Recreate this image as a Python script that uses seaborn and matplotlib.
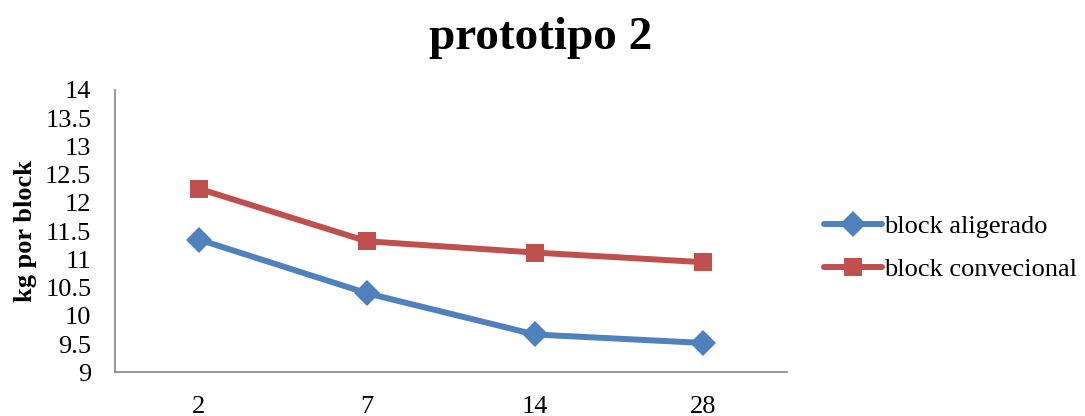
import matplotlib
matplotlib.use("Agg")
import matplotlib.pyplot as plt
import seaborn as sns
import pandas as pd

dias = ["2", "7", "14", "28"]
aligerado = [11.35, 10.40, 9.67, 9.52]
convencional = [12.25, 11.32, 11.12, 10.95]
series_names = ["block aligerado", "block convecional"]
y_ticks = [9, 9.5, 10, 10.5, 11, 11.5, 12, 12.5, 13, 13.5, 14]
y_tick_labels = ["9", "9.5", "10", "10.5", "11", "11.5", "12", "12.5", "13", "13.5", "14"]

sns.set_theme(style="white")
plt.rcParams['font.family'] = ['Liberation Serif', 'DejaVu Serif']
plt.rcParams['text.color'] = 'black'
plt.rcParams['axes.labelcolor'] = 'black'

df = pd.DataFrame({
    "dias": dias * 2,
    "kg": aligerado + convencional,
    "serie": [series_names[0]] * len(dias) + [series_names[1]] * len(dias),
})

fig = plt.figure(figsize=(10.85, 4.16), dpi=100)
ax = fig.add_axes([0.106, 0.105, 0.619, 0.679])

palette = {series_names[0]: "#4F81BD", series_names[1]: "#C0504D"}
markers = {series_names[0]: "D", series_names[1]: "s"}
sns.lineplot(data=df, x="dias", y="kg", hue="serie", style="serie",
             palette=palette, markers=markers, dashes=False, sort=False,
             linewidth=4.3, markersize=13, markeredgewidth=0, ax=ax)

ax.set_xlim(-0.5, 3.5)
ax.set_ylim(9, 14)
ax.set_yticks(y_ticks)
ax.set_yticklabels(y_tick_labels)
ax.tick_params(axis="both", length=0, labelsize=19, colors="black")
ax.tick_params(axis="y", pad=17)
ax.tick_params(axis="x", pad=17)
ax.set_xlabel("")
ax.set_ylabel("kg por block", fontsize=19, fontweight="bold", labelpad=6, color="black")
for s in ["top", "right"]:
    ax.spines[s].set_visible(False)
for s in ["left", "bottom"]:
    ax.spines[s].set_color("#868686")
    ax.spines[s].set_linewidth(1.2)

fig.suptitle("prototipo 2", x=0.498, y=0.96, fontsize=34, fontweight="bold", color="black")

leg = ax.legend(loc="center left", bbox_to_anchor=(1.02, 0.44), frameon=False,
                fontsize=19, handlelength=2.2, handletextpad=0.1, labelspacing=0.75)
for t in leg.get_texts():
    t.set_color("black")
for h in leg.legend_handles:
    h.set_linewidth(4.3)
    h.set_markersize(13)

fig.savefig("out.png", dpi=100)
